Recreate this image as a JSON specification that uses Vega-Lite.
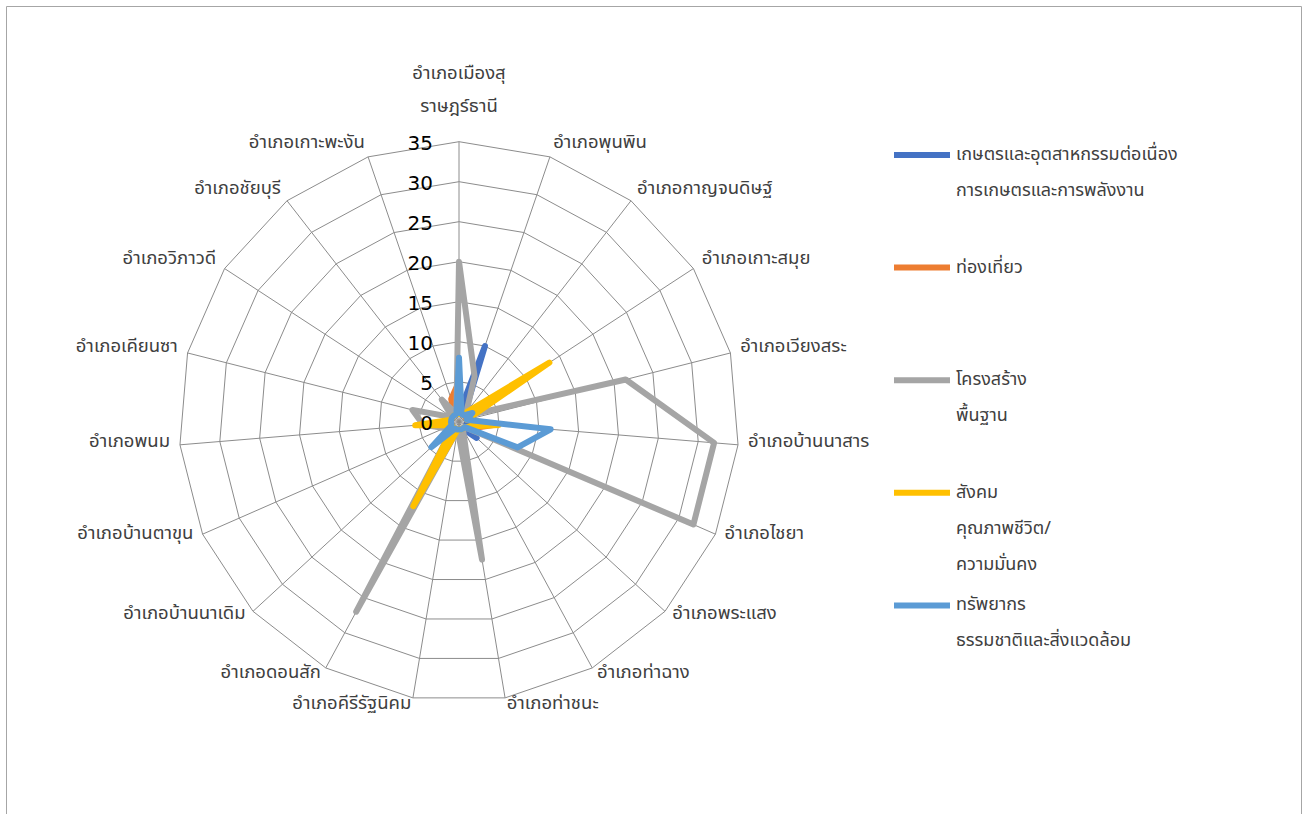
{
  "$schema": "https://vega.github.io/schema/vega-lite/v6.json",
  "width": 1295,
  "height": 808,
  "autosize": "none",
  "padding": {"left": 6, "top": 6, "right": 8, "bottom": 0},
  "background": "white",
  "config": {
    "view": {"stroke": "#a6a6a6", "strokeWidth": 1},
    "font": "Tahoma, 'Noto Sans Thai', Loma, Garuda, 'Leelawadee UI', sans-serif"
  },
  "data": {
    "values": [
      {"d": "อำเภอเมืองสุ\nราษฎร์ธานี", "i": 0, "เกษตรและอุตสาหกรรมต่อเนื่อง|การเกษตรและการพลังงาน": 1, "ท่องเที่ยว": 5, "โครงสร้าง|พื้นฐาน": 20, "สังคม|คุณภาพชีวิต/|ความมั่นคง": 1, "ทรัพยากร|ธรรมชาติและสิ่งแวดล้อม": 8},
      {"d": "อำเภอพุนพิน", "i": 1, "เกษตรและอุตสาหกรรมต่อเนื่อง|การเกษตรและการพลังงาน": 10, "ท่องเที่ยว": 1, "โครงสร้าง|พื้นฐาน": 6, "สังคม|คุณภาพชีวิต/|ความมั่นคง": 1, "ทรัพยากร|ธรรมชาติและสิ่งแวดล้อม": 1},
      {"d": "อำเภอกาญจนดิษฐ์", "i": 2, "เกษตรและอุตสาหกรรมต่อเนื่อง|การเกษตรและการพลังงาน": 1, "ท่องเที่ยว": 1, "โครงสร้าง|พื้นฐาน": 1.5, "สังคม|คุณภาพชีวิต/|ความมั่นคง": 1.5, "ทรัพยากร|ธรรมชาติและสิ่งแวดล้อม": 1},
      {"d": "อำเภอเกาะสมุย", "i": 3, "เกษตรและอุตสาหกรรมต่อเนื่อง|การเกษตรและการพลังงาน": 1, "ท่องเที่ยว": 1, "โครงสร้าง|พื้นฐาน": 1.5, "สังคม|คุณภาพชีวิต/|ความมั่นคง": 13.5, "ทรัพยากร|ธรรมชาติและสิ่งแวดล้อม": 2},
      {"d": "อำเภอเวียงสระ", "i": 4, "เกษตรและอุตสาหกรรมต่อเนื่อง|การเกษตรและการพลังงาน": 1, "ท่องเที่ยว": 1, "โครงสร้าง|พื้นฐาน": 21.5, "สังคม|คุณภาพชีวิต/|ความมั่นคง": 1, "ทรัพยากร|ธรรมชาติและสิ่งแวดล้อม": 1},
      {"d": "อำเภอบ้านนาสาร", "i": 5, "เกษตรและอุตสาหกรรมต่อเนื่อง|การเกษตรและการพลังงาน": 1, "ท่องเที่ยว": 4.5, "โครงสร้าง|พื้นฐาน": 32, "สังคม|คุณภาพชีวิต/|ความมั่นคง": 5, "ทรัพยากร|ธรรมชาติและสิ่งแวดล้อม": 11.5},
      {"d": "อำเภอไชยา", "i": 6, "เกษตรและอุตสาหกรรมต่อเนื่อง|การเกษตรและการพลังงาน": 1, "ท่องเที่ยว": 2, "โครงสร้าง|พื้นฐาน": 32, "สังคม|คุณภาพชีวิต/|ความมั่นคง": 1.5, "ทรัพยากร|ธรรมชาติและสิ่งแวดล้อม": 8},
      {"d": "อำเภอพระแสง", "i": 7, "เกษตรและอุตสาหกรรมต่อเนื่อง|การเกษตรและการพลังงาน": 3, "ท่องเที่ยว": 1, "โครงสร้าง|พื้นฐาน": 1, "สังคม|คุณภาพชีวิต/|ความมั่นคง": 1, "ทรัพยากร|ธรรมชาติและสิ่งแวดล้อม": 1},
      {"d": "อำเภอท่าฉาง", "i": 8, "เกษตรและอุตสาหกรรมต่อเนื่อง|การเกษตรและการพลังงาน": 1, "ท่องเที่ยว": 1, "โครงสร้าง|พื้นฐาน": 1, "สังคม|คุณภาพชีวิต/|ความมั่นคง": 1, "ทรัพยากร|ธรรมชาติและสิ่งแวดล้อม": 1},
      {"d": "อำเภอท่าชนะ", "i": 9, "เกษตรและอุตสาหกรรมต่อเนื่อง|การเกษตรและการพลังงาน": 1, "ท่องเที่ยว": 1, "โครงสร้าง|พื้นฐาน": 17.5, "สังคม|คุณภาพชีวิต/|ความมั่นคง": 1, "ทรัพยากร|ธรรมชาติและสิ่งแวดล้อม": 1},
      {"d": "อำเภอคีรีรัฐนิคม", "i": 10, "เกษตรและอุตสาหกรรมต่อเนื่อง|การเกษตรและการพลังงาน": 1, "ท่องเที่ยว": 1, "โครงสร้าง|พื้นฐาน": 1, "สังคม|คุณภาพชีวิต/|ความมั่นคง": 1, "ทรัพยากร|ธรรมชาติและสิ่งแวดล้อม": 1},
      {"d": "อำเภอดอนสัก", "i": 11, "เกษตรและอุตสาหกรรมต่อเนื่อง|การเกษตรและการพลังงาน": 1, "ท่องเที่ยว": 11.5, "โครงสร้าง|พื้นฐาน": 27, "สังคม|คุณภาพชีวิต/|ความมั่นคง": 12, "ทรัพยากร|ธรรมชาติและสิ่งแวดล้อม": 1},
      {"d": "อำเภอบ้านนาเดิม", "i": 12, "เกษตรและอุตสาหกรรมต่อเนื่อง|การเกษตรและการพลังงาน": 1, "ท่องเที่ยว": 1, "โครงสร้าง|พื้นฐาน": 1, "สังคม|คุณภาพชีวิต/|ความมั่นคง": 1, "ทรัพยากร|ธรรมชาติและสิ่งแวดล้อม": 4.7},
      {"d": "อำเภอบ้านตาขุน", "i": 13, "เกษตรและอุตสาหกรรมต่อเนื่อง|การเกษตรและการพลังงาน": 1, "ท่องเที่ยว": 1, "โครงสร้าง|พื้นฐาน": 2, "สังคม|คุณภาพชีวิต/|ความมั่นคง": 1, "ทรัพยากร|ธรรมชาติและสิ่งแวดล้อม": 1},
      {"d": "อำเภอพนม", "i": 14, "เกษตรและอุตสาหกรรมต่อเนื่อง|การเกษตรและการพลังงาน": 1, "ท่องเที่ยว": 1, "โครงสร้าง|พื้นฐาน": 4.5, "สังคม|คุณภาพชีวิต/|ความมั่นคง": 5.5, "ทรัพยากร|ธรรมชาติและสิ่งแวดล้อม": 1},
      {"d": "อำเภอเคียนซา", "i": 15, "เกษตรและอุตสาหกรรมต่อเนื่อง|การเกษตรและการพลังงาน": 1, "ท่องเที่ยว": 1, "โครงสร้าง|พื้นฐาน": 6, "สังคม|คุณภาพชีวิต/|ความมั่นคง": 1, "ทรัพยากร|ธรรมชาติและสิ่งแวดล้อม": 1},
      {"d": "อำเภอวิภาวดี", "i": 16, "เกษตรและอุตสาหกรรมต่อเนื่อง|การเกษตรและการพลังงาน": 1, "ท่องเที่ยว": 1, "โครงสร้าง|พื้นฐาน": 1, "สังคม|คุณภาพชีวิต/|ความมั่นคง": 1, "ทรัพยากร|ธรรมชาติและสิ่งแวดล้อม": 1},
      {"d": "อำเภอชัยบุรี", "i": 17, "เกษตรและอุตสาหกรรมต่อเนื่อง|การเกษตรและการพลังงาน": 1, "ท่องเที่ยว": 1, "โครงสร้าง|พื้นฐาน": 3.5, "สังคม|คุณภาพชีวิต/|ความมั่นคง": 1, "ทรัพยากร|ธรรมชาติและสิ่งแวดล้อม": 1},
      {"d": "อำเภอเกาะพะงัน", "i": 18, "เกษตรและอุตสาหกรรมต่อเนื่อง|การเกษตรและการพลังงาน": 1, "ท่องเที่ยว": 3, "โครงสร้าง|พื้นฐาน": 1, "สังคม|คุณภาพชีวิต/|ความมั่นคง": 1, "ทรัพยากร|ธรรมชาติและสิ่งแวดล้อม": 1}
    ]
  },
  "transform": [{"calculate": "datum.i * 2 * PI / 19", "as": "ang"}],
  "layer": [
    {
      "transform": [
        {"calculate": "[5, 10, 15, 20, 25, 30, 35]", "as": "lv"},
        {"flatten": ["lv"]},
        {"calculate": "datum.lv * sin(datum.ang)", "as": "gx"},
        {"calculate": "datum.lv * cos(datum.ang)", "as": "gy"}
      ],
      "mark": {"type": "line", "interpolate": "linear-closed", "color": "#8c8c8c", "strokeWidth": 1},
      "encoding": {
        "x": {"field": "gx", "type": "quantitative", "scale": {"domain": [-56.625, 105.25], "nice": false, "zero": false}, "axis": null},
        "y": {"field": "gy", "type": "quantitative", "scale": {"domain": [-49.0375, 51.9625], "nice": false, "zero": false}, "axis": null},
        "detail": {"field": "lv", "type": "nominal"},
        "order": {"field": "i", "type": "quantitative"}
      }
    },
    {
      "transform": [
        {"calculate": "35 * sin(datum.ang)", "as": "sx"},
        {"calculate": "35 * cos(datum.ang)", "as": "sy"},
        {"calculate": "0", "as": "zero"}
      ],
      "mark": {"type": "rule", "color": "#8c8c8c", "strokeWidth": 1},
      "encoding": {
        "x": {"field": "sx", "type": "quantitative", "scale": {"domain": [-56.625, 105.25], "nice": false, "zero": false}, "axis": null},
        "y": {"field": "sy", "type": "quantitative", "scale": {"domain": [-49.0375, 51.9625], "nice": false, "zero": false}, "axis": null},
        "x2": {"field": "zero"},
        "y2": {"field": "zero"}
      }
    },
    {
      "transform": [
        {"fold": ["เกษตรและอุตสาหกรรมต่อเนื่อง|การเกษตรและการพลังงาน", "ท่องเที่ยว", "โครงสร้าง|พื้นฐาน", "สังคม|คุณภาพชีวิต/|ความมั่นคง", "ทรัพยากร|ธรรมชาติและสิ่งแวดล้อม"], "as": ["series", "value"]},
        {"calculate": "datum.value * sin(datum.ang)", "as": "px"},
        {"calculate": "datum.value * cos(datum.ang)", "as": "py"}
      ],
      "mark": {"type": "line", "interpolate": "linear-closed", "strokeWidth": 6, "strokeCap": "round", "strokeJoin": "round"},
      "encoding": {
        "x": {"field": "px", "type": "quantitative", "scale": {"domain": [-56.625, 105.25], "nice": false, "zero": false}, "axis": null},
        "y": {"field": "py", "type": "quantitative", "scale": {"domain": [-49.0375, 51.9625], "nice": false, "zero": false}, "axis": null},
        "order": {"field": "i", "type": "quantitative"},
        "color": {
          "field": "series",
          "type": "nominal",
          "scale": {
            "domain": ["เกษตรและอุตสาหกรรมต่อเนื่อง|การเกษตรและการพลังงาน", "ท่องเที่ยว", "โครงสร้าง|พื้นฐาน", "สังคม|คุณภาพชีวิต/|ความมั่นคง", "ทรัพยากร|ธรรมชาติและสิ่งแวดล้อม"],
            "range": ["#4472C4", "#ED7D31", "#A5A5A5", "#FFC000", "#5B9BD5"]
          },
          "legend": {
            "orient": "none",
            "legendX": 885,
            "legendY": 118,
            "title": null,
            "padding": 0,
            "symbolType": "stroke",
            "symbolStrokeWidth": 6,
            "symbolSize": 3136,
            "symbolOpacity": 1,
            "labelFontSize": 18,
            "labelColor": "#404040",
            "labelLimit": 0,
            "labelOffset": 3,
            "rowPadding": 0.6,
            "labelExpr": "slice(split(datum.label + '|\u00a0|\u00a0', '|'), 0, 3)",
            "encoding": {"labels": {"lineHeight": {"value": 36}}}
          }
        }
      }
    },
    {
      "transform": [
        {"filter": "datum.i == 0"},
        {"calculate": "[0, 5, 10, 15, 20, 25, 30, 35]", "as": "lv"},
        {"flatten": ["lv"]},
        {"calculate": "0", "as": "zero"}
      ],
      "mark": {"type": "text", "align": "right", "baseline": "middle", "dx": -26, "dy": 2, "fontSize": 20, "color": "#000000", "font": "'DejaVu Sans', Verdana, sans-serif"},
      "encoding": {
        "x": {"field": "zero", "type": "quantitative", "scale": {"domain": [-56.625, 105.25], "nice": false, "zero": false}, "axis": null},
        "y": {"field": "lv", "type": "quantitative", "scale": {"domain": [-49.0375, 51.9625], "nice": false, "zero": false}, "axis": null},
        "text": {"field": "lv", "type": "quantitative"}
      }
    },
    {
      "transform": [
        {"filter": "sin(datum.ang) > 0.01"},
        {"calculate": "36.25 * sin(datum.ang)", "as": "lx"},
        {"calculate": "36.25 * cos(datum.ang)", "as": "ly"}
      ],
      "mark": {"type": "text", "align": "left", "baseline": "middle", "dy": -5, "fontSize": 18.5, "color": "#404040"},
      "encoding": {
        "x": {"field": "lx", "type": "quantitative", "scale": {"domain": [-56.625, 105.25], "nice": false, "zero": false}, "axis": null},
        "y": {"field": "ly", "type": "quantitative", "scale": {"domain": [-49.0375, 51.9625], "nice": false, "zero": false}, "axis": null},
        "text": {"field": "d", "type": "nominal"}
      }
    },
    {
      "transform": [
        {"filter": "sin(datum.ang) < -0.01"},
        {"calculate": "36.25 * sin(datum.ang)", "as": "lx"},
        {"calculate": "36.25 * cos(datum.ang)", "as": "ly"}
      ],
      "mark": {"type": "text", "align": "right", "baseline": "middle", "dy": -5, "fontSize": 18.5, "color": "#404040"},
      "encoding": {
        "x": {"field": "lx", "type": "quantitative", "scale": {"domain": [-56.625, 105.25], "nice": false, "zero": false}, "axis": null},
        "y": {"field": "ly", "type": "quantitative", "scale": {"domain": [-49.0375, 51.9625], "nice": false, "zero": false}, "axis": null},
        "text": {"field": "d", "type": "nominal"}
      }
    },
    {
      "transform": [
        {"filter": "datum.i == 0"},
        {"calculate": "36.25 * sin(datum.ang)", "as": "lx"},
        {"calculate": "36.25 * cos(datum.ang)", "as": "ly"}
      ],
      "mark": {"type": "text", "align": "center", "baseline": "middle", "dy": -59, "fontSize": 18.5, "color": "#404040", "lineBreak": "\n", "lineHeight": 33},
      "encoding": {
        "x": {"field": "lx", "type": "quantitative", "scale": {"domain": [-56.625, 105.25], "nice": false, "zero": false}, "axis": null},
        "y": {"field": "ly", "type": "quantitative", "scale": {"domain": [-49.0375, 51.9625], "nice": false, "zero": false}, "axis": null},
        "text": {"field": "d", "type": "nominal"}
      }
    }
  ]
}
